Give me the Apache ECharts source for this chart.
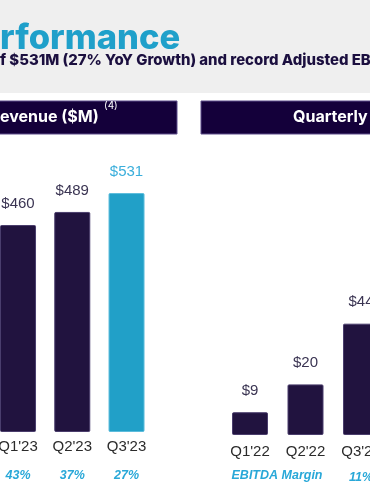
<!DOCTYPE html>
<html>
<head>
<meta charset="utf-8">
<script src="https://cdn.jsdelivr.net/npm/echarts@6/dist/echarts.min.js"></script>
<style>
html,body{margin:0;padding:0;background:#ffffff;}
#c{width:370px;height:490px;}
</style>
</head>
<body>
<div id="c"></div>
<script>
// Left panel: Revenue ($M)
const revQuarters = ["Q1'23", "Q2'23", "Q3'23"];
const revValues = [460, 489, 531];
const revGrowth = ["43%", "37%", "27%"];
// Right panel: Quarterly Adjusted EBITDA ($M)
const ebitdaQuarters = ["Q1'22", "Q2'22", "Q3'22"];
const ebitdaValues = [9, 20, 44];
const ebitdaMargins = ["", "", "11%"];

const dark = '#21133f';
const blue = '#21a0c8';

const chart = echarts.init(document.getElementById('c'), null, {renderer: 'canvas'});

const option = {
  backgroundColor: '#ffffff',
  animation: false,
  graphic: [
    {type: 'rect', shape: {x: 0, y: 0, width: 370, height: 93}, style: {fill: '#efefef'}, z: -10},
    {type: 'text', left: 0, top: 21, style: {text: 'rformance', font: '800 34.5px Inter', fill: '#1fa0ca'}},
    {type: 'text', left: 0, top: 53, style: {text: 'f $531M (27% YoY Growth) and record Adjusted EBITDA', font: '800 14.9px Inter', fill: '#1b0f3f'}},
    {type: 'rect', shape: {x: -2, y: 101, width: 179, height: 33}, style: {fill: '#14003a', stroke: '#5d4d8a', lineWidth: 1}},
    {type: 'rect', shape: {x: 201, y: 101, width: 175, height: 33}, style: {fill: '#14003a', stroke: '#5d4d8a', lineWidth: 1}},
    {type: 'text', left: 0, top: 109, style: {text: 'evenue ($M)', font: 'bold 16px Inter', fill: '#ffffff'}},
    {type: 'text', left: 104, top: 101, style: {text: '(4)', font: '10px Inter', fill: '#ffffff'}},
    {type: 'text', left: 293, top: 109, style: {text: 'Quarterly Adjusted EBITDA', font: 'bold 16px Inter', fill: '#ffffff'}},
    {type: 'text', x: 277, y: 476, style: {text: 'EBITDA Margin', font: 'italic bold 12.5px "Liberation Sans"', fill: '#29a8d8', textAlign: 'center', textVerticalAlign: 'middle'}}
  ],
  grid: [
    {left: -9.1, top: 162, width: 162.75, height: 270, outerBoundsMode: 'none', containLabel: false},
    {left: 222.25, top: 182, width: 166.5, height: 253, outerBoundsMode: 'none', containLabel: false}
  ],
  xAxis: [
    {
      type: 'category', gridIndex: 0, data: revQuarters,
      axisLine: {show: false}, axisTick: {show: false},
      axisLabel: {
        margin: 2, interval: 0, hideOverlap: false,
        formatter: (v, i) => '{q|' + v + '}\n{p|' + revGrowth[i] + '}',
        rich: {
          q: {fontFamily: 'Liberation Sans', fontSize: 15, color: '#2b2b2b', lineHeight: 26},
          p: {fontFamily: 'Liberation Sans', fontSize: 12.5, fontWeight: 'bold', fontStyle: 'italic', color: '#29a8d8', lineHeight: 31}
        }
      }
    },
    {
      type: 'category', gridIndex: 1, data: ebitdaQuarters,
      axisLine: {show: false}, axisTick: {show: false},
      axisLabel: {
        margin: 5.5, interval: 0, hideOverlap: false,
        formatter: (v, i) => '{q|' + v + '}\n{p|' + ebitdaMargins[i] + '}',
        rich: {
          q: {fontFamily: 'Liberation Sans', fontSize: 15, color: '#2b2b2b', lineHeight: 23},
          p: {fontFamily: 'Liberation Sans', fontSize: 12.5, fontWeight: 'bold', fontStyle: 'italic', color: '#29a8d8', lineHeight: 28}
        }
      }
    }
  ],
  yAxis: [
    {type: 'value', gridIndex: 0, min: 0, max: 600, show: false, splitLine: {show: false}},
    {type: 'value', gridIndex: 1, min: 0, max: 100, show: false, splitLine: {show: false}}
  ],
  series: [
    {
      type: 'bar', xAxisIndex: 0, yAxisIndex: 0, barWidth: 36,
      data: revValues.map((v, i) => ({
        value: v,
        itemStyle: {color: i === revValues.length - 1 ? blue : dark, borderColor: i === revValues.length - 1 ? '#5cbcdc' : '#4a3d6c', borderWidth: 1, borderRadius: 1},
        label: {color: i === revValues.length - 1 ? '#3aaedb' : '#3a3452'}
      })),
      label: {show: true, position: 'top', distance: 14, fontFamily: 'Liberation Sans', fontSize: 15, formatter: p => '$' + p.value}
    },
    {
      type: 'bar', xAxisIndex: 1, yAxisIndex: 1, barWidth: 36,
      data: ebitdaValues,
      itemStyle: {color: dark, borderColor: '#4a3d6c', borderWidth: 1, borderRadius: 1},
      label: {show: true, position: 'top', distance: 14, fontFamily: 'Liberation Sans', fontSize: 15, color: '#3a3452', formatter: p => '$' + p.value}
    }
  ]
};
chart.setOption(option);
</script>
</body>
</html>
